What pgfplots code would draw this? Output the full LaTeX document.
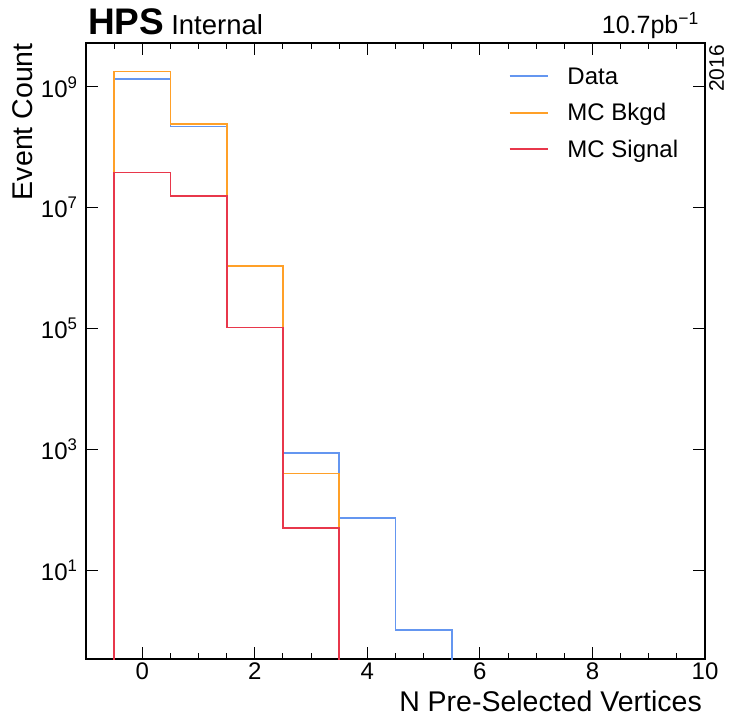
\documentclass[border=0pt]{standalone}
\usepackage{fontspec}
\setmainfont{Liberation Sans}
\usepackage{pgfplots}
\pgfplotsset{compat=1.18}
\definecolor{cdata}{RGB}{100,150,240}
\definecolor{cbkg}{RGB}{255,160,40}
\definecolor{csig}{RGB}{232,55,75}
\begin{document}
\begin{tikzpicture}
\begin{semilogyaxis}[
  scale only axis,
  width=619bp, height=616bp,
  xmin=-1, xmax=10,
  ymin=0.34, ymax=5.3e9,
  axis line style={line width=1.8bp},
  xtick={0,2,4,6,8,10},
  xticklabels={0,2,4,6,8,10},
  minor xtick={-0.5,0,...,9.5},
  ytick={10,1000,100000,10000000,1000000000},
  yticklabels={10\textsuperscript{1},10\textsuperscript{3},10\textsuperscript{5},10\textsuperscript{7},10\textsuperscript{9}},
  yminorticks=false,
  tick pos=both,
  tick align=inside,
  major tick length=12bp,
  minor tick length=6bp,
  every tick/.style={black, line width=1bp},
  tick label style={font=\fontsize{24bp}{28bp}\selectfont},
  yticklabel style={xshift=-5bp},
  clip=true,
  clip mode=individual,
  legend style={at={(rel axis cs:0.683,0.964)}, anchor=north west, draw=none, fill=none,
    inner sep=0pt, outer sep=0pt, row sep=14.5bp, column sep=19bp,
    font=\fontsize{24bp}{28bp}\selectfont,
    nodes={inner sep=0pt, text height=19bp, text depth=3bp}},
  legend cell align=left,
  legend image code/.code={\draw[#1] (0bp,0bp) -- (38bp,0bp);},
]
\addplot[cdata, line width=1.7bp] coordinates {
 (-0.5,1e-3) (-0.5,1.34e9) (0.5,1.34e9) (0.5,2.21e8) (1.5,2.21e8) (1.5,1.07e6) (2.5,1.07e6)
 (2.5,869) (3.5,869) (3.5,72.4) (4.5,72.4) (4.5,1.02) (5.5,1.02) (5.5,1e-3)};
\addlegendentry{Data}
\addplot[cbkg, line width=1.7bp] coordinates {
 (-0.5,1e-3) (-0.5,1.79e9) (0.5,1.79e9) (0.5,2.44e8) (1.5,2.44e8) (1.5,1.08e6) (2.5,1.08e6)
 (2.5,401) (3.5,401) (3.5,1e-3)};
\addlegendentry{MC Bkgd}
\addplot[csig, line width=1.7bp] coordinates {
 (-0.5,1e-3) (-0.5,3.8e7) (0.5,3.8e7) (0.5,1.54e7) (1.5,1.54e7) (1.5,1.04e5) (2.5,1.04e5)
 (2.5,50) (3.5,50) (3.5,1e-3)};
\addlegendentry{MC Signal}
\node[anchor=base west, inner sep=0pt] at ([xshift=2bp,yshift=8bp]rel axis cs:0,1)
  {\fontsize{37bp}{40bp}\selectfont\bfseries HPS\hspace{7bp}\fontsize{27.5bp}{30bp}\mdseries Internal};
\node[anchor=base east, inner sep=0pt] at ([xshift=-6bp,yshift=9bp]rel axis cs:1,1)
  {\fontsize{25bp}{28bp}\selectfont 10.7pb\textsuperscript{−1}};
\node[anchor=north east, rotate=90, inner sep=0pt] at ([xshift=4bp,yshift=-2bp]rel axis cs:1,1)
  {\fontsize{21bp}{24bp}\selectfont 2016};
\node[anchor=base east, rotate=90, inner sep=0pt] at ([xshift=-53bp]rel axis cs:0,1)
  {\fontsize{28.5bp}{32bp}\selectfont Event Count};
\node[anchor=base east, inner sep=0pt] at ([xshift=-3bp,yshift=-52bp]rel axis cs:1,0)
  {\fontsize{28.5bp}{32bp}\selectfont N Pre-Selected Vertices};
\end{semilogyaxis}
\pgfresetboundingbox
\path[use as bounding box] ([xshift=-86bp,yshift=-58bp]current axis.south west) rectangle ([xshift=25bp,yshift=43bp]current axis.north east);
\end{tikzpicture}
\end{document}
